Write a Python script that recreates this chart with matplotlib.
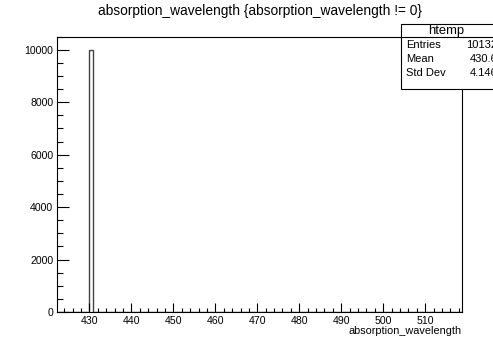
import matplotlib
matplotlib.use("Agg")
import matplotlib.pyplot as plt
from matplotlib.patches import Rectangle
from matplotlib.lines import Line2D
from matplotlib.ticker import MultipleLocator
import numpy as np

plt.rcParams['font.family'] = ['Liberation Sans', 'DejaVu Sans']

# htemp: 100 bins, only one bin is populated visibly
x_min, x_max, n_bins = 422.2, 518.7, 100
peak_bin = 8
peak_count = 10008
counts = np.zeros(n_bins)
counts[peak_bin] = peak_count

stats_names = ["Entries", "Mean", "Std Dev"]
stats_values = ["10132", "430.6", "4.146"]

edges = np.linspace(x_min, x_max, n_bins + 1)

W, H = 493, 338
fig = plt.figure(figsize=(W / 100, H / 100), dpi=100)
ax = fig.add_axes([56.7 / W, 1 - 312 / H, (461.7 - 56.7) / W, (312 - 36.5) / H])

ax.stairs(counts, edges, color='#444444', linewidth=1.0)
ax.set_xlim(x_min, x_max)
ax.set_ylim(0, peak_count * 1.05)

ax.xaxis.set_major_locator(MultipleLocator(10))
ax.xaxis.set_minor_locator(MultipleLocator(2))
ax.yaxis.set_major_locator(MultipleLocator(2000))
ax.yaxis.set_minor_locator(MultipleLocator(500))
ax.tick_params(axis='both', which='both', direction='in', top=False, right=False,
               labelsize=7.6, width=0.8, color='black')
ax.tick_params(axis='x', which='major', length=6.3, pad=3)
ax.tick_params(axis='x', which='minor', length=3.1)
ax.tick_params(axis='y', which='major', length=8.9, pad=2.5)
ax.tick_params(axis='y', which='minor', length=4.4)
for s in ax.spines.values():
    s.set_linewidth(0.8)

ax.set_xlabel("absorption_wavelength", fontsize=7.8, loc='right', labelpad=0)

fig.text(260 / W, 1 - 11 / H, "absorption_wavelength {absorption_wavelength != 0}",
         ha='center', va='center', fontsize=9.9)

# statistics box
bx0, bx1, by0, by1, hy = 400.7, 505, 24.3, 89, 37.3
fig.patches.append(Rectangle((bx0 / W, 1 - by1 / H), (bx1 - bx0) / W, (by1 - by0) / H,
                             transform=fig.transFigure, facecolor='white',
                             edgecolor='black', linewidth=0.8, zorder=5))
fig.lines.append(Line2D([bx0 / W, bx1 / W], [1 - hy / H, 1 - hy / H],
                        transform=fig.transFigure, color='black', linewidth=0.8, zorder=6))
fig.text(446.5 / W, 1 - 30.8 / H, "htemp", ha='center', va='center', fontsize=9.4, zorder=7)
for i, (name, val) in enumerate(zip(stats_names, stats_values)):
    yy = 1 - (45 + 14.2 * i) / H
    fig.text(406 / W, yy, name, ha='left', va='center', fontsize=8, zorder=7)
    fig.text(497 / W, yy, val, ha='right', va='center', fontsize=8, zorder=7)

fig.savefig("out.png", dpi=100)
